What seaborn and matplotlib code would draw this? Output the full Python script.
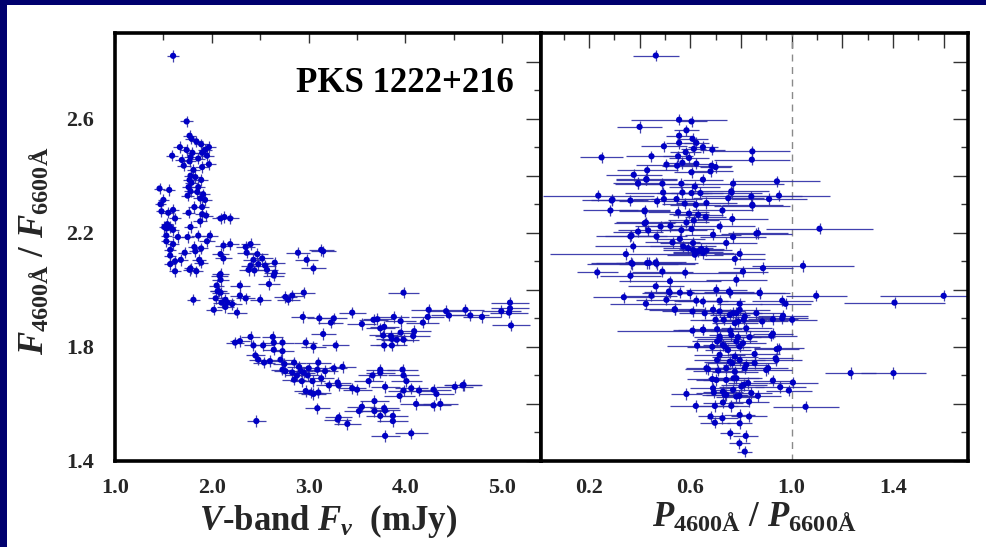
import matplotlib
matplotlib.use("Agg")
import matplotlib.pyplot as plt
import numpy as np
import pandas as pd
import seaborn as sns
from matplotlib.patches import Rectangle
from matplotlib.ticker import MultipleLocator, FuncFormatter

# ---------------- data ----------------
LEFT_FLUX = [
    1.60, 1.74, 1.77, 1.79, 1.67, 1.84, 1.89, 1.97, 1.93, 1.74,
    1.80, 1.90, 1.95, 1.59, 1.78, 1.86, 1.69, 1.97, 1.71, 1.77,
    1.90, 1.81, 1.78, 1.83, 1.77, 1.89, 1.79, 1.76, 1.86, 1.46,
    1.56, 1.78, 1.85, 1.91, 1.75, 1.88, 1.50, 1.93, 1.47, 1.82,
    1.90, 1.60, 1.48, 1.55, 1.76, 1.90, 1.94, 1.62, 2.09, 2.13,
    2.19, 1.88, 1.54, 1.57, 1.78, 1.53, 1.60, 1.86, 1.98, 1.53,
    1.65, 1.75, 1.95, 1.53, 1.60, 1.82, 2.19, 2.12, 1.89, 1.57,
    2.35, 2.40, 1.72, 1.83, 2.09, 2.36, 1.57, 2.47, 2.12, 1.68,
    1.87, 2.43, 2.52, 1.62, 2.89, 2.98, 3.13, 3.15, 2.65, 1.57,
    1.89, 2.40, 2.48, 2.55, 1.77, 1.84, 1.62, 2.38, 2.44, 2.57,
    2.65, 2.64, 3.05, 2.59, 2.09, 2.09, 2.05, 2.06, 2.09, 2.29,
    2.95, 1.51, 1.78, 2.08, 2.07, 2.04, 2.14, 2.10, 2.16, 2.21,
    2.14, 2.02, 2.26, 1.81, 2.35, 2.50, 2.29, 2.76, 2.83, 2.79,
    2.94, 3.98, 3.11, 3.26, 3.45, 3.23, 3.55, 3.67, 3.71, 3.88,
    3.95, 4.24, 4.42, 4.45, 4.62, 4.67, 4.79, 4.23, 4.18, 4.99,
    5.08, 5.08, 5.07, 5.09, 3.74, 3.78, 3.15, 3.77, 3.85, 3.95,
    4.09, 4.08, 3.98, 3.91, 3.86, 3.78, 3.86, 2.97, 3.05, 3.28,
    2.29, 2.24, 2.40, 2.43, 2.53, 2.63, 2.64, 2.73, 2.45, 2.48,
    2.54, 2.60, 2.64, 2.71, 2.73, 2.75, 2.85, 2.73, 2.76, 2.83,
    2.92, 2.88, 2.95, 2.90, 3.00, 2.85, 2.93, 2.97, 3.02, 3.05,
    3.10, 3.09, 2.46, 3.09, 3.10, 3.17, 3.26, 3.35, 3.04, 3.21,
    3.30, 3.31, 3.45, 3.50, 3.62, 3.66, 3.74, 3.74, 3.97, 3.98,
    4.01, 3.79, 3.98, 3.94, 4.06, 4.14, 4.29, 4.32, 4.51, 4.59,
    4.60, 3.55, 3.68, 3.52, 3.68, 3.78, 3.79, 3.74, 3.87, 3.87,
    4.11, 4.29, 4.36, 3.31, 3.30, 3.40, 3.79, 4.06, 2.99, 3.13,
]
LEFT_RATIO = [
    2.82, 2.59, 2.54, 2.53, 2.50, 2.52, 2.51, 2.50, 2.49, 2.49,
    2.48, 2.48, 2.47, 2.47, 2.465, 2.46, 2.455, 2.44, 2.435, 2.45,
    2.43, 2.42, 2.40, 2.395, 2.385, 2.385, 2.375, 2.36, 2.36, 2.355,
    2.35, 2.345, 2.343, 2.335, 2.33, 2.32, 2.315, 2.315, 2.30, 2.29,
    2.29, 2.28, 2.275, 2.27, 2.27, 2.265, 2.26, 2.25, 2.25, 2.255,
    2.25, 2.24, 2.23, 2.22, 2.22, 2.215, 2.21, 2.19, 2.19, 2.19,
    2.185, 2.185, 2.17, 2.17, 2.16, 2.15, 2.16, 2.155, 2.145, 2.14,
    2.15, 2.16, 2.13, 2.135, 2.125, 2.13, 2.12, 2.125, 2.11, 2.105,
    2.105, 2.105, 2.11, 2.10, 2.13, 2.105, 2.14, 2.135, 2.095, 2.09,
    2.095, 2.085, 2.09, 2.085, 2.07, 2.065, 2.065, 2.07, 2.068, 2.07,
    2.06, 2.05, 2.075, 2.02, 2.055, 2.035, 2.015, 1.995, 1.99, 2.015,
    1.99, 2.22, 2.075, 2.05, 1.995, 1.97, 1.965, 1.955, 1.955, 1.95,
    1.94, 1.93, 1.92, 1.965, 1.97, 1.965, 1.98, 1.975, 1.98, 1.965,
    1.905, 1.99, 1.90, 1.90, 1.92, 1.885, 1.88, 1.895, 1.897, 1.905,
    1.89, 1.93, 1.925, 1.91, 1.93, 1.91, 1.905, 1.905, 1.885, 1.925,
    1.955, 1.935, 1.92, 1.875, 1.865, 1.87, 1.845, 1.84, 1.838, 1.85,
    1.855, 1.838, 1.825, 1.825, 1.828, 1.805, 1.805, 1.815, 1.80, 1.805,
    1.82, 1.815, 1.835, 1.805, 1.805, 1.835, 1.815, 1.815, 1.77, 1.755,
    1.745, 1.75, 1.79, 1.755, 1.785, 1.74, 1.745, 1.72, 1.715, 1.71,
    1.715, 1.70, 1.71, 1.73, 1.725, 1.685, 1.68, 1.645, 1.64, 1.635,
    1.64, 1.585, 1.54, 1.72, 1.745, 1.715, 1.725, 1.73, 1.68, 1.665,
    1.675, 1.665, 1.655, 1.65, 1.68, 1.70, 1.72, 1.71, 1.72, 1.70,
    1.68, 1.66, 1.647, 1.628, 1.655, 1.647, 1.65, 1.635, 1.66, 1.665,
    1.667, 1.59, 1.61, 1.575, 1.575, 1.585, 1.577, 1.558, 1.558, 1.54,
    1.60, 1.595, 1.60, 1.553, 1.545, 1.53, 1.488, 1.497, 1.70, 1.69,
]
LEFT_FLUX_ERR = [
    0.06, 0.07, 0.07, 0.07, 0.07, 0.07, 0.07, 0.07, 0.07, 0.07,
    0.07, 0.07, 0.07, 0.06, 0.07, 0.07, 0.07, 0.07, 0.07, 0.07,
    0.07, 0.07, 0.07, 0.07, 0.07, 0.07, 0.07, 0.07, 0.07, 0.06,
    0.06, 0.07, 0.07, 0.07, 0.07, 0.07, 0.06, 0.07, 0.06, 0.07,
    0.07, 0.06, 0.06, 0.06, 0.07, 0.07, 0.07, 0.06, 0.09, 0.09,
    0.09, 0.07, 0.06, 0.06, 0.07, 0.06, 0.06, 0.07, 0.08, 0.06,
    0.06, 0.07, 0.08, 0.06, 0.06, 0.07, 0.09, 0.09, 0.07, 0.06,
    0.10, 0.10, 0.07, 0.07, 0.09, 0.10, 0.06, 0.11, 0.09, 0.07,
    0.07, 0.11, 0.11, 0.06, 0.12, 0.12, 0.13, 0.13, 0.11, 0.06,
    0.07, 0.10, 0.11, 0.11, 0.07, 0.07, 0.06, 0.10, 0.11, 0.11,
    0.11, 0.11, 0.13, 0.11, 0.09, 0.09, 0.08, 0.08, 0.09, 0.10,
    0.12, 0.06, 0.07, 0.09, 0.09, 0.08, 0.09, 0.09, 0.09, 0.10,
    0.09, 0.08, 0.10, 0.07, 0.10, 0.11, 0.10, 0.12, 0.12, 0.12,
    0.12, 0.16, 0.13, 0.14, 0.14, 0.13, 0.15, 0.15, 0.15, 0.16,
    0.16, 0.18, 0.18, 0.19, 0.19, 0.19, 0.20, 0.17, 0.17, 0.20,
    0.20, 0.20, 0.20, 0.20, 0.15, 0.15, 0.13, 0.15, 0.16, 0.16,
    0.17, 0.17, 0.16, 0.16, 0.16, 0.15, 0.16, 0.12, 0.13, 0.14,
    0.10, 0.09, 0.10, 0.10, 0.11, 0.11, 0.11, 0.12, 0.10, 0.10,
    0.11, 0.11, 0.11, 0.12, 0.12, 0.12, 0.12, 0.12, 0.12, 0.12,
    0.12, 0.12, 0.12, 0.12, 0.13, 0.12, 0.12, 0.12, 0.13, 0.13,
    0.13, 0.13, 0.10, 0.13, 0.13, 0.13, 0.14, 0.14, 0.13, 0.13,
    0.14, 0.14, 0.14, 0.15, 0.15, 0.15, 0.15, 0.15, 0.16, 0.16,
    0.16, 0.15, 0.16, 0.16, 0.17, 0.17, 0.18, 0.18, 0.19, 0.19,
    0.19, 0.15, 0.15, 0.15, 0.15, 0.15, 0.15, 0.15, 0.16, 0.16,
    0.17, 0.18, 0.18, 0.14, 0.14, 0.14, 0.15, 0.17, 0.12, 0.13,
]

RIGHT_POL = [
    0.464, 0.556, 0.605, 0.400, 0.585, 0.556, 0.496, 0.609, 0.624, 0.556,
    0.650, 0.687, 0.845, 0.582, 0.614, 0.250, 0.447, 0.552, 0.595, 0.843,
    0.506, 0.548, 0.569, 0.624, 0.684, 0.700, 0.377, 0.430, 0.605, 0.680,
    0.427, 0.490, 0.394, 0.565, 0.618, 0.650, 0.769, 0.493, 0.569, 0.605,
    0.640, 0.762, 0.237, 0.841, 0.290, 0.364, 0.469, 0.496, 0.546, 0.578,
    0.622, 0.664, 0.845, 0.285, 0.420, 0.552, 0.595, 0.631, 0.727, 0.766,
    0.585, 0.614, 0.661, 0.425, 0.483, 0.522, 0.394, 0.434, 0.565, 0.605,
    0.716, 0.364, 0.467, 0.690, 0.769, 0.867, 0.530, 0.559, 0.611, 0.742,
    0.942, 0.950, 0.911, 0.763, 0.750, 0.845, 0.861, 0.887, 0.795, 0.776,
    0.808, 0.782, 0.874, 0.753, 0.394, 0.427, 0.293, 0.420, 0.420, 0.368,
    0.375, 0.368, 0.364, 0.437, 0.464, 0.490, 0.464, 0.516, 0.338, 0.572,
    0.591, 0.611, 0.631, 0.644, 0.664, 0.618, 0.651, 0.233, 0.372, 0.430,
    0.467, 0.447, 0.425, 0.506, 0.539, 0.609, 0.559, 0.598, 0.624, 0.650,
    0.690, 0.703, 0.716, 0.758, 0.795, 0.874, 0.963, 0.976, 1.097, 1.600,
    1.406, 0.756, 0.782, 0.811, 0.861, 0.884, 0.926, 0.963, 1.002, 0.700,
    0.732, 0.609, 0.650, 0.706, 0.758, 0.627, 0.687, 0.716, 0.736, 0.788,
    0.795, 0.834, 0.854, 0.920, 0.926, 0.950, 0.937, 0.664, 0.766, 0.821,
    0.907, 0.687, 0.771, 0.811, 0.926, 0.955, 0.989, 1.005, 0.585, 0.693,
    0.742, 0.794, 0.832, 0.867, 0.622, 0.697, 0.729, 0.762, 1.055, 0.680,
    0.727, 0.795, 0.832, 0.697, 0.795, 0.758, 0.819, 0.794, 0.815, 0.716,
    0.769, 0.795, 0.815, 0.789, 0.776, 0.716, 0.706, 0.729, 0.749, 0.716,
    0.776, 0.782, 0.808, 0.756, 0.670, 0.710, 0.742, 0.776, 0.815, 0.854,
    0.900, 0.703, 0.742, 0.782, 0.828, 0.690, 0.729, 0.769, 0.802, 0.841,
    0.736, 0.782, 0.762, 0.821, 0.706, 0.795, 0.519, 0.539, 0.657, 0.966,
    0.520, 0.651, 0.941, 0.940, 1.233, 1.402, 0.346, 1.110, 1.045, 0.580,
]
RIGHT_RATIO = [
    2.821, 2.596, 2.590, 2.571, 2.559, 2.540, 2.503, 2.529, 2.515, 2.515,
    2.500, 2.491, 2.485, 2.482, 2.494, 2.464, 2.468, 2.468, 2.462, 2.456,
    2.439, 2.435, 2.445, 2.442, 2.435, 2.430, 2.403, 2.419, 2.412, 2.415,
    2.388, 2.372, 2.372, 2.372, 2.362, 2.386, 2.372, 2.341, 2.341, 2.339,
    2.339, 2.345, 2.330, 2.327, 2.313, 2.313, 2.310, 2.318, 2.318, 2.302,
    2.298, 2.304, 2.298, 2.278, 2.275, 2.272, 2.267, 2.263, 2.278, 2.248,
    2.236, 2.243, 2.255, 2.236, 2.222, 2.224, 2.204, 2.208, 2.209, 2.213,
    2.222, 2.187, 2.187, 2.193, 2.185, 2.199, 2.166, 2.178, 2.164, 2.164,
    2.380, 2.330, 2.318, 2.341, 2.321, 2.295, 2.197, 2.076, 2.126, 2.108,
    2.064, 2.035, 1.990, 1.994, 2.374, 2.386, 2.316, 2.278, 2.233, 2.190,
    2.152, 2.094, 2.049, 2.094, 2.096, 2.064, 2.012, 1.994, 1.974, 2.152,
    2.146, 2.140, 2.134, 2.143, 2.138, 2.123, 2.129, 2.061, 2.091, 2.094,
    2.091, 1.979, 1.951, 1.965, 1.930, 1.924, 1.990, 1.988, 1.962, 1.959,
    1.930, 2.000, 1.962, 1.990, 1.951, 1.988, 1.962, 1.951, 1.979, 1.979,
    1.955, 1.912, 1.918, 1.895, 1.918, 1.889, 1.897, 1.900, 1.895, 1.895,
    1.895, 1.857, 1.860, 1.862, 1.857, 1.804, 1.800, 1.827, 1.801, 1.834,
    1.801, 1.834, 1.775, 1.839, 1.846, 1.795, 1.760, 1.725, 1.743, 1.737,
    1.725, 1.687, 1.690, 1.667, 1.682, 1.659, 1.647, 1.675, 1.635, 1.640,
    1.632, 1.628, 1.608, 1.628, 1.593, 1.593, 1.605, 1.593, 1.590, 1.556,
    1.550, 1.561, 1.556, 1.534, 1.532, 1.497, 1.488, 1.462, 1.433, 1.924,
    1.918, 1.930, 1.906, 1.889, 1.883, 1.836, 1.819, 1.807, 1.789, 1.772,
    1.766, 1.819, 1.813, 1.748, 1.722, 1.717, 1.725, 1.713, 1.725, 1.743,
    1.719, 1.684, 1.684, 1.690, 1.673, 1.655, 1.643, 1.649, 1.661, 1.638,
    1.632, 1.626, 1.842, 1.865, 1.754, 1.754, 1.990, 1.932, 1.918, 1.909,
    2.030, 1.860, 1.792, 1.754, 1.708, 1.708, 2.125, 2.214, 2.084, 2.060,
]
RIGHT_POL_ERR = [
    0.09, 0.19, 0.06, 0.09, 0.05, 0.05, 0.09, 0.06, 0.05, 0.05,
    0.06, 0.05, 0.15, 0.06, 0.05, 0.085, 0.10, 0.06, 0.08, 0.15,
    0.12, 0.06, 0.06, 0.07, 0.08, 0.06, 0.11, 0.12, 0.07, 0.09,
    0.12, 0.10, 0.09, 0.07, 0.10, 0.08, 0.20, 0.15, 0.10, 0.08,
    0.09, 0.15, 0.22, 0.20, 0.08, 0.07, 0.15, 0.12, 0.10, 0.09,
    0.10, 0.12, 0.12, 0.11, 0.10, 0.12, 0.08, 0.10, 0.12, 0.14,
    0.09, 0.10, 0.08, 0.12, 0.10, 0.08, 0.10, 0.12, 0.10, 0.09,
    0.14, 0.10, 0.12, 0.11, 0.13, 0.12, 0.11, 0.10, 0.13, 0.12,
    0.17, 0.20, 0.15, 0.12, 0.14, 0.15, 0.14, 0.12, 0.10, 0.12,
    0.10, 0.12, 0.12, 0.10, 0.10, 0.12, 0.12, 0.10, 0.12, 0.14,
    0.15, 0.16, 0.12, 0.13, 0.12, 0.12, 0.11, 0.10, 0.12, 0.13,
    0.10, 0.12, 0.10, 0.09, 0.10, 0.11, 0.12, 0.08, 0.18, 0.20,
    0.15, 0.10, 0.14, 0.12, 0.10, 0.12, 0.10, 0.10, 0.09, 0.10,
    0.10, 0.12, 0.10, 0.10, 0.09, 0.10, 0.12, 0.10, 0.12, 0.25,
    0.20, 0.08, 0.10, 0.09, 0.10, 0.10, 0.10, 0.10, 0.10, 0.10,
    0.09, 0.30, 0.12, 0.10, 0.08, 0.12, 0.10, 0.09, 0.10, 0.09,
    0.08, 0.10, 0.10, 0.10, 0.08, 0.10, 0.07, 0.08, 0.10, 0.09,
    0.08, 0.10, 0.10, 0.09, 0.08, 0.10, 0.09, 0.10, 0.06, 0.07,
    0.08, 0.07, 0.08, 0.09, 0.10, 0.09, 0.08, 0.07, 0.13, 0.05,
    0.06, 0.06, 0.07, 0.06, 0.05, 0.04, 0.05, 0.04, 0.03, 0.10,
    0.10, 0.12, 0.10, 0.10, 0.09, 0.10, 0.10, 0.08, 0.09, 0.10,
    0.09, 0.08, 0.09, 0.10, 0.09, 0.10, 0.08, 0.09, 0.10, 0.09,
    0.10, 0.08, 0.09, 0.10, 0.08, 0.09, 0.08, 0.07, 0.09, 0.08,
    0.09, 0.08, 0.09, 0.10, 0.09, 0.10, 0.11, 0.12, 0.10, 0.10,
    0.20, 0.10, 0.09, 0.10, 0.10, 0.13, 0.30, 0.21, 0.20, 0.22,
]
RATIO_ERR = 0.02

LEFT_XTICKS = [1.0, 2.0, 3.0, 4.0, 5.0]
RIGHT_XTICK_LABELS = [0.2, 0.6, 1.0, 1.4]
Y_TICK_LABELS = [1.4, 1.8, 2.2, 2.6]

# ---------------- style ----------------
sns.set_theme(style="white")
plt.rcParams["font.family"] = ["Liberation Serif", "DejaVu Serif"]
plt.rcParams["font.weight"] = "bold"
plt.rcParams["mathtext.fontset"] = "custom"
plt.rcParams["mathtext.rm"] = "Liberation Serif:bold"
plt.rcParams["mathtext.it"] = "Liberation Serif:italic:bold"
plt.rcParams["mathtext.bf"] = "Liberation Serif:bold"

NAVY = "#00006e"
DOT = "#0000c4"
BAR = "#2c2ca6"

W, H = 986, 547
fig = plt.figure(figsize=(W / 100, H / 100), dpi=100)
fig.patch.set_facecolor(NAVY)
fig.add_artist(Rectangle((7 / W, 0), 1 - 7 / W, (H - 5) / H, transform=fig.transFigure,
                         facecolor="white", edgecolor="none", zorder=-10))

axL = fig.add_axes([115 / W, 86 / H, 426 / W, 428 / H])
axR = fig.add_axes([541 / W, 86 / H, 427 / W, 428 / H])

left_df = pd.DataFrame({"flux": LEFT_FLUX, "ratio": LEFT_RATIO, "err": LEFT_FLUX_ERR})
right_df = pd.DataFrame({"pol": RIGHT_POL, "ratio": RIGHT_RATIO, "err": RIGHT_POL_ERR})

for ax, df, xcol in ((axL, left_df, "flux"), (axR, right_df, "pol")):
    ax.errorbar(df[xcol], df["ratio"], xerr=df["err"], yerr=RATIO_ERR, fmt="none",
                ecolor=BAR, elinewidth=0.9, capsize=0, alpha=0.9, zorder=2)
    sns.scatterplot(data=df, x=xcol, y="ratio", ax=ax, color=DOT, s=20,
                    edgecolor="none", linewidth=0, zorder=3, legend=False)
    ax.set_facecolor("white")
    ax.set_ylim(1.4, 2.9)
    ax.yaxis.set_major_locator(MultipleLocator(0.2))
    ax.yaxis.set_minor_locator(MultipleLocator(0.1))
    ax.tick_params(which="both", direction="in", top=True, right=True,
                   color="#333333", width=1.0)
    ax.tick_params(which="major", length=11)
    ax.tick_params(which="minor", length=5)
    for sp in ax.spines.values():
        sp.set_linewidth(2.6)
        sp.set_color("black")
    ax.set_xlabel("")
    ax.set_ylabel("")


def sel_fmt(values):
    def f(v, pos):
        for t in values:
            if abs(v - t) < 1e-6:
                return f"{t:.1f}"
        return ""
    return FuncFormatter(f)


# left axes
axL.set_xlim(1.0, 5.4)
axL.xaxis.set_major_locator(MultipleLocator(1.0))
axL.xaxis.set_minor_locator(MultipleLocator(0.5))
axL.xaxis.set_major_formatter(sel_fmt(LEFT_XTICKS))
axL.yaxis.set_major_formatter(sel_fmt(Y_TICK_LABELS))
axL.tick_params(axis="y", which="major", pad=15, labelsize=16)
axL.tick_params(axis="x", which="major", pad=12, labelsize=16)
axL.tick_params(axis="x", which="major", length=7)

axL.set_ylabel(r"$F_{\mathrm{4600Å}}$ / $F_{\mathrm{6600Å}}$", fontsize=25, fontweight="bold")
axL.yaxis.set_label_coords(-0.148, 0.49)
axL.set_xlabel(r"$V$-band $F_{\nu}$  (mJy)", fontsize=25, fontweight="bold")
axL.xaxis.set_label_coords(0.5, -0.095)

axL.text(0.937, 0.882, "PKS 1222+216", transform=axL.transAxes, ha="right", va="center",
         fontsize=25, fontweight="bold", color="black")

# right axes
axR.set_xlim(0.011, 1.696)
axR.xaxis.set_major_locator(MultipleLocator(0.2))
axR.xaxis.set_minor_locator(MultipleLocator(0.1))
axR.xaxis.set_major_formatter(sel_fmt(RIGHT_XTICK_LABELS))
axR.tick_params(axis="y", labelleft=False)
axR.tick_params(axis="x", which="major", pad=12, labelsize=16)
axR.axvline(1.0, color="#8a8a8a", lw=1.0, ls=(0, (5, 4)), zorder=1)
axR.set_xlabel(r"$P_{\mathrm{4600Å}}$ / $P_{\mathrm{6600Å}}$", fontsize=25, fontweight="bold")
axR.xaxis.set_label_coords(0.5, -0.095)

for ax in (axL, axR):
    for lab in ax.get_xticklabels() + ax.get_yticklabels():
        lab.set_fontweight("bold")

fig.savefig("out.png", dpi=100, facecolor=fig.get_facecolor())
